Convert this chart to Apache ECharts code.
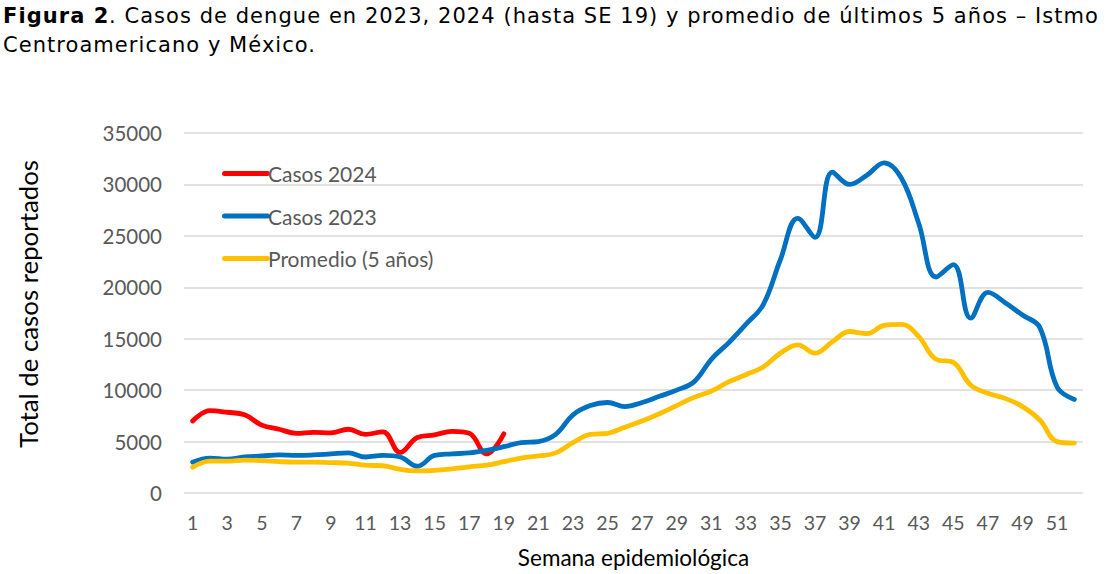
<!DOCTYPE html>
<html>
<head>
<meta charset="utf-8">
<script src="https://cdn.jsdelivr.net/npm/echarts@6/dist/echarts.min.js"></script>
<style>
html,body{margin:0;padding:0;background:#fff;}
#chart{width:1110px;height:574px;}
#chart text[style*="DejaVu"]{letter-spacing:1.05px;}
</style>
</head>
<body>
<div id="chart"></div>
<script>
const weeks = ['1','2','3','4','5','6','7','8','9','10','11','12','13','14','15','16','17','18','19','20','21','22','23','24','25','26','27','28','29','30','31','32','33','34','35','36','37','38','39','40','41','42','43','44','45','46','47','48','49','50','51','52'];

const casos2024 = [7000, 8000, 7850, 7600, 6600, 6200, 5800, 5900, 5850, 6200, 5700, 5950, 3950, 5400, 5650, 6000, 5800, 3800, 5750];

const casos2023 = [3000, 3400, 3300, 3500, 3600, 3700, 3650, 3700, 3800, 3900, 3500, 3650, 3500, 2600, 3650, 3800, 3900, 4150, 4500,
  4900, 5000, 5700, 7600, 8500, 8800, 8400, 8800, 9400, 10000, 10800, 13000, 14600, 16400, 18300, 22700, 26700, 24850,
  31200, 30000, 30900, 32100, 30600, 26200, 21000, 22200, 17000, 19500, 18500, 17300, 16100, 10300, 9100];

const promedio5 = [2500, 3100, 3100, 3200, 3150, 3050, 3000, 3000, 2950, 2900, 2700, 2650, 2300, 2150, 2200, 2350, 2550, 2700, 3050,
  3400, 3600, 3900, 4900, 5700, 5800, 6400, 7000, 7700, 8500, 9300, 9900, 10800, 11500, 12250, 13600, 14400, 13600,
  14700, 15700, 15500, 16300, 16400, 15200, 13000, 12700, 10500, 9700, 9200, 8400, 7100, 5000, 4850];

const yTicks = { min: 0, max: 35000, interval: 5000 };

const seriesNames = ['Casos 2024', 'Casos 2023', 'Promedio (5 años)'];
const seriesColors = ['#ff0000', '#0070c0', '#ffc000'];

const chart = echarts.init(document.getElementById('chart'), null, { renderer: 'svg' });

function mkSeries(name, data, color) {
  return {
    name: name,
    type: 'line',
    data: data,
    smooth: 0.4,
    symbol: 'none',
    lineStyle: { color: color, width: 4.8, cap: 'round', join: 'round' },
    itemStyle: { color: color },
    emphasis: { disabled: true }
  };
}

chart.setOption({
  animation: false,
  backgroundColor: '#ffffff',
  title: {
    left: 3,
    top: 1,
    padding: 0,
    text: '{b|Figura 2}{n|. Casos de dengue en 2023, 2024 (hasta SE 19) y promedio de últimos 5 años – Istmo}\n{n|Centroamericano y México.}',
    textStyle: {
      fontWeight: 'normal',
      rich: {
        b: { fontFamily: 'DejaVu Sans', fontSize: 21, fontWeight: 'bold', color: '#000', lineHeight: 29, padding: [0, 8, 0, 0] },
        n: { fontFamily: 'DejaVu Sans', fontSize: 21, fontWeight: 'normal', color: '#000', lineHeight: 29 }
      }
    }
  },
  legend: {
    orient: 'vertical',
    left: 217,
    top: 158,
    itemWidth: 48,
    itemHeight: 22,
    itemGap: 21.5,
    icon: 'path://M2.5,0 L45.5,0 A2.5,2.5 0 0 1 45.5,5 L2.5,5 A2.5,2.5 0 0 1 2.5,0 Z',
    data: seriesNames,
    textStyle: { fontFamily: 'Lato', fontSize: 21, color: '#595959', padding: [0, 0, 0, -7] }
  },
  grid: { left: 184, right: 27, top: 133, bottom: 81, containLabel: false },
  xAxis: {
    type: 'category',
    data: weeks,
    boundaryGap: true,
    name: 'Semana epidemiológica',
    nameLocation: 'middle',
    nameGap: 53,
    nameTextStyle: { fontFamily: 'Lato', fontSize: 22.5, color: '#000' },
    axisLine: { show: false },
    axisTick: { show: false },
    axisLabel: { interval: 1, fontFamily: 'Lato', fontSize: 19.5, color: '#595959', margin: 19 }
  },
  yAxis: {
    type: 'value',
    min: yTicks.min,
    max: yTicks.max,
    interval: yTicks.interval,
    name: 'Total de casos reportados',
    nameLocation: 'middle',
    nameGap: 143,
    nameTextStyle: { fontFamily: 'Lato', fontSize: 25.8, color: '#000', padding: [0, 0, 0, 18] },
    axisLine: { show: false },
    axisTick: { show: false },
    axisLabel: { fontFamily: 'Lato', fontSize: 20.5, color: '#595959', margin: 22, formatter: function (v) { return String(v); } },
    splitLine: { lineStyle: { color: '#d9d9d9', width: 1.5 } }
  },
  series: [
    mkSeries(seriesNames[0], casos2024, seriesColors[0]),
    mkSeries(seriesNames[1], casos2023, seriesColors[1]),
    mkSeries(seriesNames[2], promedio5, seriesColors[2])
  ]
});
</script>
</body>
</html>
